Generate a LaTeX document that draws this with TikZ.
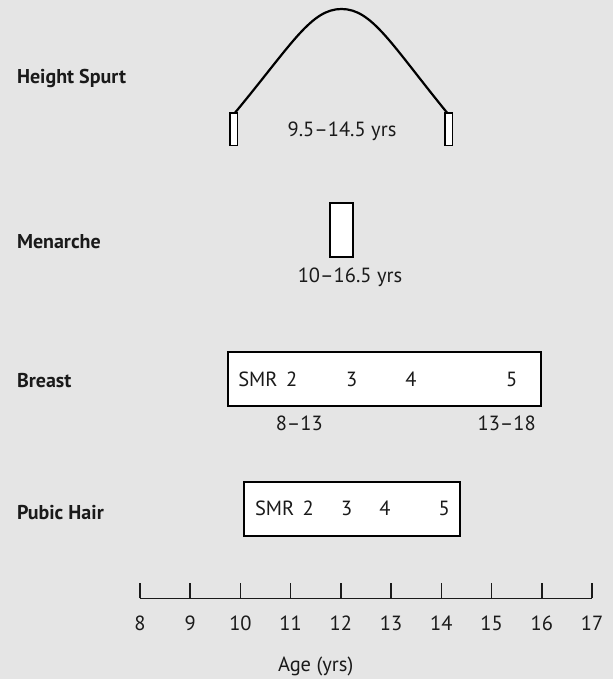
\documentclass[tikz,border=0pt]{standalone}
\usepackage{fontspec}
\setmainfont{PT Sans}
\definecolor{bgc}{HTML}{E5E5E5}
\definecolor{inkc}{HTML}{1A1A1A}
\newcommand{\txtfont}{\fontsize{20.5}{24}\selectfont}
\newcommand{\headfont}{\fontsize{20}{24}\selectfont\bfseries}
\begin{document}
\begin{tikzpicture}[x=1pt,y=-1pt,
  every node/.style={inner sep=0pt, outer sep=0pt, text=inkc},
  rowlabel/.style={font=\headfont, anchor=base west},
  txt/.style={font=\txtfont, anchor=base},
  txtw/.style={font=\txtfont, anchor=base west},
  bigbar/.style={draw=black, line width=2pt, fill=white},
  endbar/.style={draw=black, line width=1.2pt, fill=white,
    minimum width=7.8pt, minimum height=32.8pt},
  axisline/.style={draw=inkc, line width=1.5pt},
]
% background and page size
\fill[bgc] (0,0) rectangle (613,679);
\useasboundingbox (0,0) rectangle (613,679);

% row labels
\node[rowlabel] (hs) at (17,83.3) {Height Spurt};
\node[rowlabel] (me) at (17,248) {Menarche};
\node[rowlabel] (br) at (17,387.3) {Breast};
\node[rowlabel] (ph) at (17,519) {Pubic Hair};

% height spurt: two end markers joined by an arch
\node[endbar] (hsl) at (233.8,129.4) {};
\node[endbar] (hsr) at (448.8,129.4) {};
\coordinate (peak) at (341.5,9);
\draw[black, line width=2.2pt]
  ([xshift=1pt]hsl.north) .. controls (292,44) and (311,9) .. (peak)
  .. controls (372,9) and (391,44) .. ([xshift=-1.5pt]hsr.north);
\node[txt] (hsrange) at (342,137) {9.5–14.5 yrs};

% menarche
\node[bigbar, minimum width=23.3pt, minimum height=54.6pt] (mebar) at (341.35,230) {};
\node[txt] (merange) at (350,282.7) {10–16.5 yrs};

% breast stages
\node[bigbar, minimum width=313pt, minimum height=54pt] (brbar) at (384.2,378.7) {};
\node[txtw] (brsmr) at (238.3,386) {SMR};
\node[txt] (br2) at (291.7,386) {2};
\node[txt] (br3) at (351.7,386) {3};
\node[txt] (br4) at (411,386) {4};
\node[txt] (br5) at (511.7,386) {5};
\node[txt] (brlo) at (299.3,430.7) {8–13};
\node[txt] (brhi) at (506.7,430.7) {13–18};

% pubic hair stages
\node[bigbar, minimum width=215.7pt, minimum height=53.7pt] (phbar) at (352.15,508.85) {};
\node[txtw] (phsmr) at (255,515.7) {SMR};
\node[txt] (ph2) at (308.3,515.7) {2};
\node[txt] (ph3) at (346.7,515.7) {3};
\node[txt] (ph4) at (385,515.7) {4};
\node[txt] (ph5) at (444.3,515.7) {5};

% age axis
\draw[axisline] (140,598.3) -- (592,598.3);
\foreach \a [evaluate=\a as \xx using {140+(\a-8)*50.222}] in {8,...,17} {
  \draw[axisline] (\xx,598.3) -- (\xx,583.3);
  \node[txt] (age\a) at (\xx,630.7) {\a};
}
\node[txtw] (axtitle) at (278,671.7) {Age (yrs)};
\end{tikzpicture}
\end{document}
